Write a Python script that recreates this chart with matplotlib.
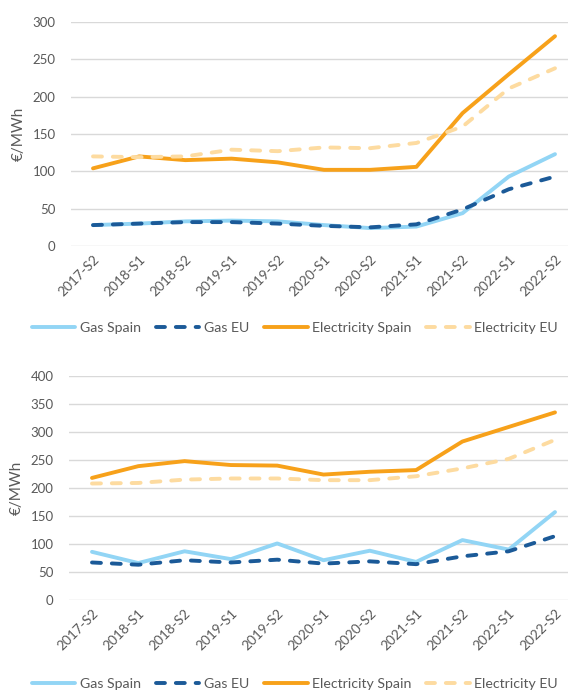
import matplotlib
matplotlib.use("Agg")
import matplotlib.pyplot as plt

periods = ["2017-S2", "2018-S1", "2018-S2", "2019-S1", "2019-S2", "2020-S1",
           "2020-S2", "2021-S1", "2021-S2", "2022-S1", "2022-S2"]

# Top chart
top_gas_spain = [28, 30, 33, 34, 33, 28, 24, 26, 44, 93, 123]
top_gas_eu = [28, 30, 32, 32, 30, 27, 25, 29, 49, 76, 93]
top_elec_spain = [104, 120, 115, 117, 112, 102, 102, 106, 178, 230, 281]
top_elec_eu = [120, 119, 120, 129, 127, 132, 131, 138, 160, 211, 238]

# Bottom chart
bot_gas_spain = [86, 66, 87, 73, 101, 71, 88, 68, 107, 90, 157]
bot_gas_eu = [67, 63, 71, 67, 72, 65, 69, 64, 78, 87, 114]
bot_elec_spain = [218, 239, 248, 241, 240, 224, 229, 232, 283, 309, 335]
bot_elec_eu = [208, 209, 215, 217, 217, 214, 214, 221, 235, 252, 286]

series_names = ["Gas Spain", "Gas EU", "Electricity Spain", "Electricity EU"]
colors = ["#92D5F5", "#1B5A98", "#F7A11A", "#FDDBA0"]
styles = ["solid", "dashed", "solid", "dashed"]

plt.rcParams['font.family'] = ['Lato', 'DejaVu Sans']
TXT = "#595959"
W, H = 568, 693
fig = plt.figure(figsize=(W / 100, H / 100), dpi=100)


def make_ax(top_px, bottom_px, left_px, first_px, last_px, ymax, data, legend_y):
    step = (last_px - first_px) / 10
    x0 = first_px - step / 2
    x1 = last_px + step / 2
    ax = fig.add_axes([left_px / W, 1 - bottom_px / H, (x1 - left_px) / W,
                       (bottom_px - top_px) / H])
    ax.set_xlim(-0.5 - (x0 - left_px) / step, 10.5)
    ax.set_ylim(0, ymax)
    ax.set_yticks(range(0, ymax + 1, 50))
    ax.grid(axis='y', color="#D9D9D9", linewidth=1.0)
    ax.set_axisbelow(True)
    for s in ax.spines.values():
        s.set_visible(False)
    ax.tick_params(axis='both', length=0, colors=TXT, labelsize=9.5)
    ax.tick_params(axis='y', pad=11)
    x = list(range(len(periods)))
    ax.set_xticks(x)
    ax.set_xticklabels(periods, rotation=45, ha='right', va='top',
                       rotation_mode='anchor', fontsize=9.8, color=TXT)
    ax.tick_params(axis='x', pad=5)
    for vals, c, st, name in zip(data, colors, styles, series_names):
        if st == 'dashed':
            ax.plot(x, vals, color=c, linewidth=2.8, linestyle=(0, (2.3, 2.8)),
                    dash_capstyle='round', dash_joinstyle='round', label=name,
                    clip_on=False)
        else:
            ax.plot(x, vals, color=c, linewidth=2.8, solid_capstyle='round',
                    solid_joinstyle='round', label=name, clip_on=False)
    ax.set_ylabel("€/MWh", color=TXT, fontsize=11, labelpad=5)
    fig.legend(handles=ax.get_lines(), loc='center', ncol=4,
               bbox_to_anchor=(0.519, 1 - legend_y / H), frameon=False,
               fontsize=10.2, handlelength=3.1, columnspacing=1.05,
               handletextpad=0.3, labelcolor=TXT, borderpad=0, borderaxespad=0)
    return ax


make_ax(22, 246, 71, 93, 555, 300,
        [top_gas_spain, top_gas_eu, top_elec_spain, top_elec_eu], 328)
make_ax(376, 600, 69, 92, 555, 400,
        [bot_gas_spain, bot_gas_eu, bot_elec_spain, bot_elec_eu], 684)

fig.savefig("out.png", dpi=100)
